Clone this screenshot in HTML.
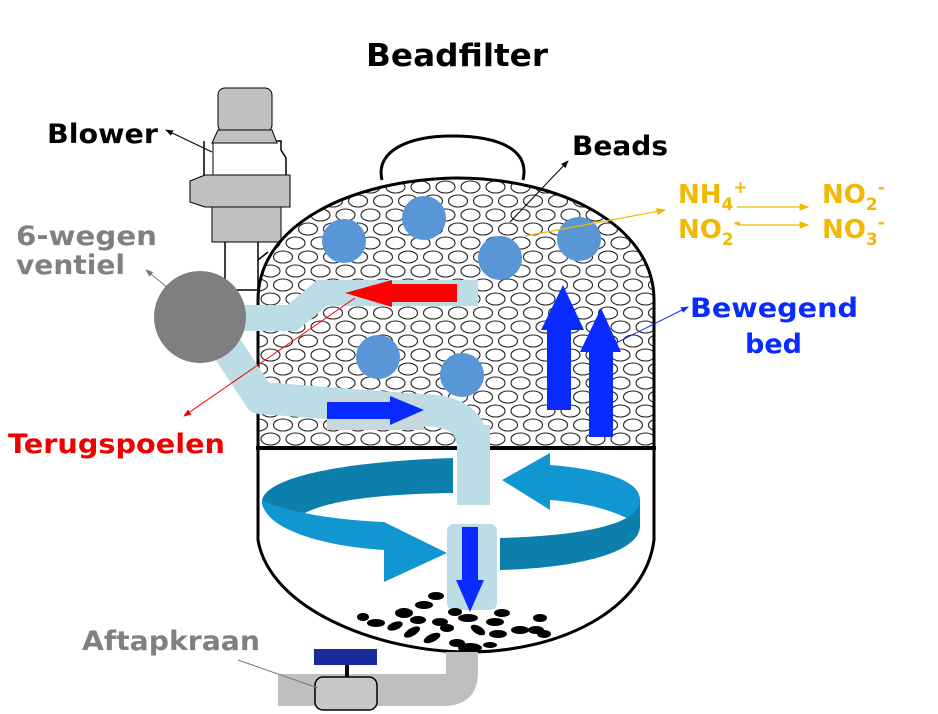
<!DOCTYPE html>
<html><head><meta charset="utf-8"><style>
html,body{margin:0;padding:0;background:#fff;}
svg{display:block;}
text{font-family:"DejaVu Sans","Liberation Sans",sans-serif;font-weight:bold;}
</style></head><body>
<svg width="938" height="714" viewBox="0 0 938 714" xmlns="http://www.w3.org/2000/svg">
<defs>
<pattern id="bp" x="258" y="180" width="25" height="28" patternUnits="userSpaceOnUse">
<ellipse cx="12.5" cy="7" rx="9.5" ry="6" fill="none" stroke="#222" stroke-width="1.1"/>
<ellipse cx="0" cy="21" rx="9.5" ry="6" fill="none" stroke="#222" stroke-width="1.1"/>
<ellipse cx="25" cy="21" rx="9.5" ry="6" fill="none" stroke="#222" stroke-width="1.1"/>
</pattern>
<marker id="ak" markerWidth="8" markerHeight="8" refX="7" refY="4" orient="auto"><path d="M0,1 L8,4 L0,7Z" fill="#000"/></marker>
<marker id="ar" markerWidth="8" markerHeight="8" refX="7" refY="4" orient="auto"><path d="M0,1 L8,4 L0,7Z" fill="#e00"/></marker>
<marker id="ab" markerWidth="8" markerHeight="8" refX="7" refY="4" orient="auto"><path d="M0,1 L8,4 L0,7Z" fill="#0a2bff"/></marker>
<marker id="ay" markerWidth="8" markerHeight="8" refX="7" refY="4" orient="auto"><path d="M0,1 L8,4 L0,7Z" fill="#f2b800"/></marker>
<marker id="ag" markerWidth="8" markerHeight="8" refX="7" refY="4" orient="auto"><path d="M0,1 L8,4 L0,7Z" fill="#777"/></marker>
</defs>

<text x="366" y="66" font-size="31" textLength="182" lengthAdjust="spacingAndGlyphs" fill="#000">Beadfilter</text>

<!-- handle -->
<path d="M382,180 C375,150 410,136 452,136 C500,136 530,150 523,180" fill="#fff" stroke="#000" stroke-width="3"/>

<!-- blower -->
<path d="M225,242 L225,290 L258,290 L258,242" fill="#fff" stroke="#000" stroke-width="1.5"/>
<path d="M258,260 L268,252" stroke="#000" stroke-width="1.5"/>
<path d="M204,141 L204,175 M286,175 L286,158 L281,150 L281,141 L273,141" fill="none" stroke="#000" stroke-width="1.5"/>
<path d="M213,141 L213,175" stroke="#000" stroke-width="1"/>
<rect x="218" y="88" width="54" height="44" rx="7" fill="#c0c0c0" stroke="#000" stroke-width="1"/>
<path d="M218,130 L272,130 L277,143 L212,143Z" fill="#c0c0c0" stroke="#000" stroke-width="1"/>
<path d="M190,181 L205,175 L290,175 L290,207 L205,207 L190,202Z" fill="#c0c0c0" stroke="#000" stroke-width="1"/>
<rect x="212" y="207" width="69" height="35" fill="#c0c0c0" stroke="#000" stroke-width="1"/>

<!-- dome with beads -->
<path d="M258,448 L258,300 C258,225 350,180 456,178 C560,178 654,225 654,300 L654,448 Z" fill="#fff"/>
<path d="M258,448 L258,300 C258,225 350,180 456,178 C560,178 654,225 654,300 L654,448 Z" fill="url(#bp)" stroke="#000" stroke-width="3"/>

<!-- bottom bowl -->
<path d="M258,448 L258,540 C270,610 380,652 468,652 C560,652 645,610 654,540 L654,448" fill="#fff" stroke="#000" stroke-width="3"/>
<line x1="256" y1="448" x2="656" y2="448" stroke="#000" stroke-width="4"/>

<!-- blue beads -->
<g fill="#5896d6">
<circle cx="344" cy="241" r="22"/><circle cx="424" cy="218" r="22"/><circle cx="500" cy="258" r="22"/>
<circle cx="579" cy="239" r="22"/><circle cx="378" cy="357" r="22"/><circle cx="462" cy="375" r="22"/>
</g>

<!-- pipes -->
<path d="M240,318 L292,318 L322,293 L478,293" fill="none" stroke="#bcdde6" stroke-width="26"/>
<path d="M215,330 L260,398 L420,410 C460,410 473,425 473,450 L473,505" fill="none" stroke="#bcdde6" stroke-width="32" stroke-linejoin="round"/>
<path d="M457,293 L392,293" stroke="#f00" stroke-width="18"/>
<path d="M392,280 L345,293 L392,307Z" fill="#f00"/>
<rect x="327" y="395" width="97" height="35" fill="#c8d8dd"/>
<rect x="327" y="402" width="65" height="17" fill="#0a2bff"/>
<path d="M390,396 L424,410 L390,425Z" fill="#0a2bff"/>

<!-- valve ball -->
<circle cx="200" cy="317" r="46" fill="#7f7f7f"/>

<!-- up arrows -->
<rect x="547" y="328" width="24" height="82" fill="#0a2bff"/>
<path d="M541,330 L563,285 L584,330Z" fill="#0a2bff"/>
<rect x="589" y="350" width="24" height="87" fill="#0a2bff"/>
<path d="M580,352 L601,308 L621,352Z" fill="#0a2bff"/>

<!-- swirl -->
<path d="M453,458 C330,462 262,480 262,502 C262,510 270,518 290,524 C310,500 380,494 453,493 Z" fill="#0d7fad"/>
<path d="M262,500 C262,528 320,546 384,550 L384,582 L447,553 L384,522 C330,520 280,510 262,500Z" fill="#1096d0"/>
<path d="M550,465 C610,470 640,482 640,500 L640,526 C620,512 590,503 550,500 L550,510 L502,480 L550,453Z" fill="#1096d0"/>
<path d="M640,500 C640,525 580,536 500,538 L500,570 C580,568 640,552 640,526 Z" fill="#0d7fad"/>
<rect x="457" y="425" width="33" height="80" fill="#bcdde6"/>
<rect x="447" y="524" width="50" height="86" rx="7" fill="#bcdde6"/>
<rect x="462" y="527" width="16" height="55" fill="#0a2bff"/>
<path d="M456,580 L484,580 L470,612Z" fill="#0a2bff"/>

<!-- pebbles -->
<g fill="#000">
<ellipse cx="436" cy="596" rx="8" ry="4"/><ellipse cx="424" cy="605" rx="9" ry="4"/><ellipse cx="404" cy="613" rx="9" ry="5"/>
<ellipse cx="363" cy="617" rx="6" ry="4"/><ellipse cx="376" cy="623" rx="9" ry="4"/><ellipse cx="395" cy="626" rx="8" ry="4" transform="rotate(-20 395 626)"/>
<ellipse cx="412" cy="632" rx="9" ry="4" transform="rotate(-30 412 632)"/><ellipse cx="418" cy="620" rx="8" ry="4"/><ellipse cx="440" cy="622" rx="8" ry="4"/>
<ellipse cx="432" cy="638" rx="9" ry="4" transform="rotate(-25 432 638)"/><ellipse cx="447" cy="628" rx="7" ry="4"/><ellipse cx="457" cy="643" rx="8" ry="4"/>
<ellipse cx="468" cy="618" rx="10" ry="4"/><ellipse cx="478" cy="630" rx="8" ry="4" transform="rotate(30 478 630)"/><ellipse cx="495" cy="622" rx="9" ry="4"/>
<ellipse cx="498" cy="634" rx="9" ry="4"/><ellipse cx="470" cy="648" rx="12" ry="5"/><ellipse cx="502" cy="613" rx="8" ry="4"/>
<ellipse cx="520" cy="630" rx="9" ry="4"/><ellipse cx="540" cy="618" rx="7" ry="4"/><ellipse cx="536" cy="630" rx="8" ry="4"/>
<ellipse cx="544" cy="634" rx="7" ry="4"/><ellipse cx="455" cy="612" rx="7" ry="4"/><ellipse cx="490" cy="645" rx="7" ry="3"/>
</g>

<!-- drain -->
<path d="M462,652 L462,672 C462,688 455,690 440,690 L278,690" fill="none" stroke="#bfbfbf" stroke-width="32" stroke-linejoin="round"/>
<rect x="314" y="649" width="63" height="16" fill="#1a2a9b"/>
<rect x="345" y="665" width="4" height="12" fill="#000"/>
<rect x="315" y="677" width="62" height="33" rx="8" fill="#c8c8c8" stroke="#000" stroke-width="1.5"/>

<!-- labels -->
<text x="47" y="143" font-size="27" textLength="111" lengthAdjust="spacingAndGlyphs" fill="#000">Blower</text>
<line x1="212" y1="152" x2="166" y2="130" stroke="#000" stroke-width="1" marker-end="url(#ak)"/>
<text x="572" y="155" font-size="27" textLength="96" lengthAdjust="spacingAndGlyphs" fill="#000">Beads</text>
<line x1="510" y1="222" x2="568" y2="161" stroke="#000" stroke-width="1" marker-end="url(#ak)"/>
<text x="16" y="245" font-size="27" textLength="141" lengthAdjust="spacingAndGlyphs" fill="#808080">6-wegen</text>
<text x="16" y="274" font-size="27" textLength="109" lengthAdjust="spacingAndGlyphs" fill="#808080">ventiel</text>
<line x1="168" y1="288" x2="146" y2="270" stroke="#777" stroke-width="1" marker-end="url(#ag)"/>
<text x="8" y="453" font-size="27" textLength="217" lengthAdjust="spacingAndGlyphs" fill="#e00">Terugspoelen</text>
<line x1="355" y1="298" x2="184" y2="416" stroke="#e00" stroke-width="1" marker-end="url(#ar)"/>
<text x="690" y="317" font-size="27" textLength="168" lengthAdjust="spacingAndGlyphs" fill="#0a2bff">Bewegend</text>
<text x="745" y="353" font-size="27" textLength="57" lengthAdjust="spacingAndGlyphs" fill="#0a2bff">bed</text>
<line x1="612" y1="345" x2="688" y2="307" stroke="#0a2bff" stroke-width="1" marker-end="url(#ab)"/>
<line x1="525" y1="236" x2="665" y2="210" stroke="#f2b800" stroke-width="1.2" marker-end="url(#ay)"/>
<text x="678" y="203" font-size="26" fill="#f2b800">NH<tspan font-size="17" dy="7">4</tspan><tspan font-size="17" dy="-17">+</tspan></text>
<text x="822" y="203" font-size="26" fill="#f2b800">NO<tspan font-size="17" dy="7">2</tspan><tspan font-size="17" dy="-17">-</tspan></text>
<text x="678" y="238" font-size="26" fill="#f2b800">NO<tspan font-size="17" dy="7">2</tspan><tspan font-size="17" dy="-17">-</tspan></text>
<text x="822" y="238" font-size="26" fill="#f2b800">NO<tspan font-size="17" dy="7">3</tspan><tspan font-size="17" dy="-17">-</tspan></text>
<line x1="737" y1="207" x2="808" y2="207" stroke="#f2b800" stroke-width="1.2" marker-end="url(#ay)"/>
<line x1="737" y1="225" x2="808" y2="225" stroke="#f2b800" stroke-width="1.2" marker-end="url(#ay)"/>
<text x="82" y="650" font-size="27" textLength="178" lengthAdjust="spacingAndGlyphs" fill="#808080">Aftapkraan</text>
<line x1="238" y1="660" x2="318" y2="688" stroke="#777" stroke-width="1"/>
</svg>
</body></html>
